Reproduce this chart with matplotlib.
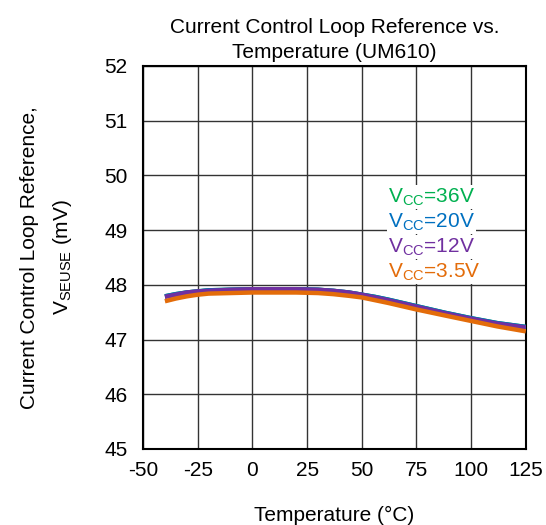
import numpy as np
import matplotlib.pyplot as plt

plt.rcParams['font.family'] = ['Liberation Sans', 'DejaVu Sans']
plt.rcParams['axes.unicode_minus'] = False

temp = [-40, -35, -30, -25, -20, -10, 0, 10, 20, 30, 37, 44, 50, 56, 62, 75, 88, 100, 112, 125]
v_36 = [47.79, 47.83, 47.86, 47.88, 47.90, 47.91, 47.92, 47.92, 47.92, 47.91, 47.89, 47.86, 47.82, 47.78, 47.73, 47.61, 47.49, 47.39, 47.30, 47.23]
v_20 = [47.79, 47.83, 47.86, 47.88, 47.90, 47.91, 47.92, 47.92, 47.92, 47.91, 47.89, 47.86, 47.82, 47.78, 47.73, 47.61, 47.49, 47.39, 47.30, 47.23]
v_12 = [47.78, 47.82, 47.86, 47.88, 47.89, 47.91, 47.92, 47.92, 47.92, 47.91, 47.89, 47.86, 47.82, 47.77, 47.72, 47.60, 47.48, 47.38, 47.29, 47.22]
v_35 = [47.70, 47.75, 47.79, 47.82, 47.84, 47.85, 47.86, 47.86, 47.86, 47.85, 47.83, 47.80, 47.77, 47.72, 47.67, 47.55, 47.44, 47.34, 47.24, 47.15]

labels = ['=36V', '=20V', '=12V', '=3.5V']
colors = ['#00b050', '#0070c0', '#7030a0', '#e36c0a']

fig = plt.figure(figsize=(5.46, 5.25), dpi=100)
ax = fig.add_axes([0.262, 0.1448, 0.701, 0.7295])

for v, c in zip([v_36, v_20, v_12, v_35], colors):
    ax.plot(temp, v, color=c, lw=3.2, solid_capstyle='butt', zorder=3)

ax.set_xlim(-50, 125)
ax.set_ylim(45, 52)
ax.set_xticks(np.arange(-50, 126, 25))
ax.set_yticks(np.arange(45, 53, 1))
ax.grid(True, color='#333333', lw=1)
ax.tick_params(length=0, labelsize=15, pad=9)
ax.tick_params(axis='y', pad=11)
for s in ax.spines.values():
    s.set_linewidth(1.5)

ax.set_title('Current Control Loop Reference vs.\nTemperature (UM610)', fontsize=15, pad=6,
             linespacing=1.35)
ax.set_xlabel('Temperature (°C)', fontsize=15, labelpad=18)
ax.set_ylabel('Current Control Loop Reference,\n$\\mathregular{V_{SEUSE}}$ (mV)', fontsize=15,
              labelpad=22, linespacing=1.7)

for i, (lab, c) in enumerate(zip(labels, colors)):
    ax.text(62, 49.6 - i * 0.457, '$\\mathregular{V_{CC}}$' + lab, color=c, fontsize=15,
            ha='left', va='center', zorder=4,
            bbox=dict(facecolor='white', edgecolor='none', pad=1))

fig.savefig('out.png', dpi=100)
